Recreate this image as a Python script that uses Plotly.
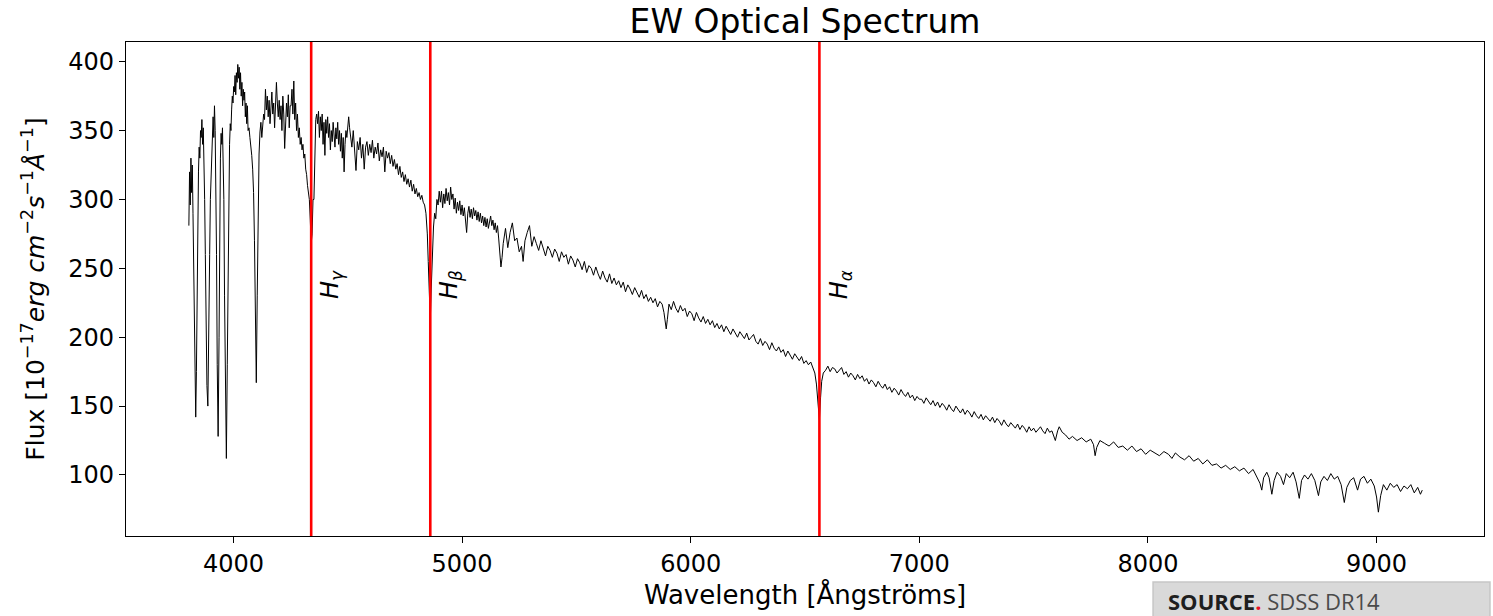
import plotly.graph_objects as go

# ---------------- data ----------------
wl_a = [3805,3808,3811,3814,3817,3820,3823,3826,3829,3832,
        3835,3838,3841,3844,3847,3850,3853,3856,3859,3862,
        3865,3868,3871,3874,3877,3880,3884,3888,3892,3896,
        3899,3902,3905,3908,3911,3914,3917,3920,3923,3926,
        3929,3933,3937,3940,3943,3946,3949,3952,3955,3958,
        3961,3965,3969,3973,3977,3980,3983,3986,3989,3992,
        3995,3998]
flux_a = [281,320,296,330,305,325,290,250,200,155,
          142,175,240,296,320,338,330,350,345,358,
          340,352,330,300,260,210,165,150,190,260,
          300,315,335,350,360,345,368,350,320,260,
          180,128,200,280,330,348,340,352,335,300,
          230,150,112,180,260,300,340,355,350,365,
          375,370]

wl_b = [4001,4004,4007,4010,4013,4016,4019,4022,4025,4028,
        4031,4034,4037,4040,4043,4046,4049,4052,4055,4058,
        4061,4064,4068,4072,4076,4080,4084,4088,4092,4096,
        4100,4104,4108,4112,4116,4120,4124,4128,4132,4136]
flux_b = [382,378,390,376,392,385,398,388,396,380,
          392,375,385,368,380,372,378,360,370,355,
          368,350,352,345,340,332,322,305,270,210,
          167,230,300,333,349,356,345,352,362,358]

wl_c = [4140,4144,4148,4152,4156,4160,4164,4168,4172,4176,
        4180,4184,4188,4192,4196,4200,4204,4208,4212,4216,
        4220,4224,4228,4232,4236,4240,4244,4248,4252,4256,
        4260,4264,4268,4272,4276,4280,4284,4288,4292,4296,
        4300,4304,4308,4312,4316,4320,4324,4328,4332,4336]
flux_c = [380,365,375,360,372,355,368,378,362,370,
          352,366,385,370,360,372,358,368,350,375,
          362,337,365,370,360,376,352,368,368,380,
          362,386,358,370,350,362,345,352,340,345,
          336,340,330,333,322,318,310,304,300,285]

wl_d = [4340,4344,4348,4352,4356,4360,4364,4368,4372,4376,
        4380,4384,4388,4392,4396,4400,4404,4408,4412,4416,
        4420,4424,4428,4432,4436,4440,4444,4448,4452,4456,
        4460,4464,4468,4472,4476,4480,4484,4488,4492,4496,
        4500,4504,4508]
flux_d = [268,275,300,300,335,358,362,355,364,345,
          360,350,362,340,356,332,358,348,360,345,
          355,336,350,342,356,348,338,352,344,356,
          340,350,335,348,330,345,320,340,350,345,
          355,360,352]

wl_e = [4512,4518,4524,4530,4536,4542,4548,4554,4560,4566,
        4572,4578,4584,4590,4596,4602,4608,4614,4620,4626,
        4632,4638,4644,4650,4656,4662,4668,4674,4680,4686,
        4692,4698,4704,4710,4716,4722,4728,4734,4740,4746,
        4752,4758,4764,4770,4776,4782,4788,4794,4800,4806,
        4812,4818,4824,4830,4836,4842]
flux_e = [345,338,350,335,321,342,336,345,330,340,
          322,338,342,332,340,334,343,330,338,333,
          341,328,336,331,338,320,335,330,334,326,
          332,324,329,322,326,318,324,316,320,313,
          318,311,315,309,314,306,311,304,308,302,
          305,300,303,298,296,290]

wl_f = [4848,4852,4856,4861,4865,4870,4875,4880,4885,4890,
        4895,4900]
flux_f = [275,255,232,212,235,265,280,290,286,300,
          296,306]

wl_g = [4905,4910,4915,4920,4925,4930,4935,4940,4945,4950,
        4955,4960,4965,4970,4975,4980,4985,4990,4995,5000,
        5005,5010,5015,5020,5025,5030,5035,5040,5045,5050,
        5055,5060,5065,5070,5075,5080,5085,5090,5095,5100,
        5105,5110,5115,5120,5125,5130,5135,5140,5145,5150,
        5155,5160,5165,5170,5175]
flux_g = [298,306,294,304,297,308,299,305,296,309,
          300,304,293,301,290,298,292,299,289,296,
          288,294,283,276,290,295,287,293,286,294,
          288,292,285,291,284,290,283,288,281,287,
          280,286,279,284,288,281,285,278,283,276,
          281,272,260,251,258]

wl_h = [5180,5190,5200,5210,5220,5230,5240,5250,5260,5267,
        5275,5285,5295,5305,5315,5325,5335,5345,5355,5365,
        5375,5385,5395,5405,5415,5425,5435,5445,5455,5465,
        5475,5485,5495,5505,5515,5525,5535,5545,5555,5565,
        5575,5585,5595,5605,5615,5625,5635,5645,5655,5665,
        5675,5685,5695,5705,5715,5725,5735,5745,5755,5765,
        5775,5785,5795,5805,5815,5825,5835,5845,5855,5865,
        5875,5883]
flux_h = [268,279,265,276,283,270,272,262,266,255,
          270,276,281,266,273,268,263,270,265,259,
          266,263,258,264,261,255,262,258,260,253,
          259,256,251,257,254,249,255,247,252,250,
          245,251,246,242,248,243,240,246,239,243,
          238,241,236,240,233,238,235,231,236,232,
          229,234,228,231,226,229,225,228,222,226,
          224,218]

wl_i = [5888,5893,5898,5905,
        5915,5925,5935,5945,5955,5965,5975,5985,5995,6005,
        6015,6025,6035,6045,6055,6065,6075,6085,6095,6105,
        6115,6125,6135,6145,6155,6165,6175,6185,6195,6205,
        6215,6225,6235,6245,6255,6265,6275,6285,6295,6305,
        6315,6325,6335,6345,6355,6365,6375,6385,6395,6405,
        6415,6425,6435,6445,6455,6465,6475,6485,6495,6505,
        6515,6525,6535]
flux_i = [212,206,213,224,
          220,226,221,218,223,219,221,215,219,217,
          212,218,214,211,215,210,213,209,212,207,
          210,206,209,204,208,205,202,206,203,200,
          204,201,199,203,198,200,202,197,195,199,
          194,197,195,191,196,192,190,193,189,191,
          186,190,187,184,188,185,183,186,181,183,
          180,182,178]

wl_j = [6543,6550,6556,6563,6568,6573,6580,
        6590,6600,6610,6620,6630,6640,6650,6660,6670,6680,
        6690,6700,6710,6720,6730,6740,6750,6760,6770,6780,
        6790,6800,6810,6820,6830,6840,6850,6860,6870,6880,
        6890,6900,6910,6920,6930,6940,6950,6960,6970,6980,
        6990,7000]
flux_j = [174,166,152,140,156,168,174,
          176,179,175,178,177,174,176,178,173,175,
          171,174,172,169,173,170,172,168,170,166,
          169,167,164,168,165,163,166,162,164,160,
          163,161,158,162,159,157,160,156,158,154,
          157,155]

wl_k = [7010,7020,7030,7040,7050,7060,7070,7080,7090,7100,
        7110,7120,7130,7140,7150,7160,7170,7180,7190,7200,
        7210,7220,7230,7240,7250,7260,7270,7280,7290,7300,
        7310,7320,7330,7340,7350,7360,7370,7380,7390,7400,
        7410,7420,7430,7440,7450,7460,7470,7480,7490,7500,
        7510,7520,7530,7540,7550,7560,7570,7580]
flux_k = [155,152,156,153,151,154,150,153,149,152,
          150,147,151,148,146,150,147,145,148,144,
          147,145,142,146,143,141,144,140,143,141,
          139,142,138,141,139,136,140,137,135,138,
          136,134,137,133,136,134,131,135,132,134,
          131,133,135,132,130,134,131,132]

wl_l = [7595,7605,7612,7625,7640,7655,7670,7690,7710,7730,
        7750,7762,7769,7776,7790,7810,7830,7850,7870,7890,
        7910,7930,7950,7970,7990,8010,8030,8050,8070,8090,
        8105,8120,8140,8160,8180,8200,8220,8240,8260,8280,
        8300,8320,8340,8360,8380,8400,8420,8440,8460,8475,
        8490,8498,8506,8520,8530,8542,8552,8565,8580,8593,
        8605,8620,8635,8648,8662,8672,8685,8700,8715,8730,
        8746,8756,8770,8785,8800,8815,8830,8845,8859,8870,
        8885,8900,8917,8930,8945,8960,8975,8990,9000,9008,
        9018,9030,9045,9060,9075,9090,9105,9120,9135,9150,
        9165,9180,9192,9200]
flux_l = [125,132,135,131,129,126,128,125,127,124,
          126,122,114,120,125,123,121,124,120,121,
          118,121,117,119,115,118,116,114,117,115,
          112,116,113,111,114,110,112,108,111,107,
          108,105,107,104,106,103,105,101,104,99,
          94,89,98,102,98,86,96,102,99,93,
          101,98,102,95,83,96,100,97,101,96,
          85,95,99,96,101,97,99,93,80,91,
          96,98,89,97,99,94,97,92,84,73,
          85,93,89,94,91,93,88,92,90,93,
          87,91,86,89]

line_names = ["H<sub>γ</sub>", "H<sub>β</sub>", "H<sub>α</sub>"]
line_wavelengths = [4340, 4861, 6563]
x_ticks = [4000, 5000, 6000, 7000, 8000, 9000]
y_ticks = [100, 150, 200, 250, 300, 350, 400]

# ---------------- assemble ----------------
wl_parts = [wl_a, wl_b, wl_c, wl_d, wl_e, wl_f, wl_g, wl_h, wl_i, wl_j, wl_k, wl_l]
fl_parts = [flux_a, flux_b, flux_c, flux_d, flux_e, flux_f, flux_g, flux_h, flux_i, flux_j, flux_k, flux_l]
wavelength, flux = [], []
for w, f in zip(wl_parts, fl_parts):
    assert len(w) == len(f), (w[0], len(w), len(f))
    wavelength += w
    flux += f

FONT = "DejaVu Sans"

fig = go.Figure()
fig.add_trace(go.Scatter(x=wavelength, y=flux, mode="lines",
                         line=dict(color="black", width=1.0),
                         showlegend=False, hoverinfo="x+y"))

for name, lam in zip(line_names, line_wavelengths):
    fig.add_shape(type="line", xref="x", yref="paper", x0=lam, x1=lam, y0=0, y1=1,
                  line=dict(color="#ff0000", width=2.6))
    fig.add_annotation(x=lam, y=238, xref="x", yref="y", xshift=21,
                       text="<i>" + name + "</i>", textangle=-90, showarrow=False,
                       font=dict(family=FONT, size=24, color="black"))

# source box
fig.add_shape(type="rect", xref="paper", yref="paper",
              x0=0.7563, x1=1.0044, y0=-0.0931, y1=-0.19,
              fillcolor="#d9d9d9", line=dict(color="#c6c6c6", width=1.5), layer="above")
fig.add_annotation(xref="paper", yref="paper", x=0.7658, y=-0.1316,
                   xanchor="left", yanchor="middle", showarrow=False,
                   text="<b>SOURCE<span style='color:#e8101e'>.</span></b> "
                        "<span style='color:#4a4a4a'>SDSS DR14</span>",
                   font=dict(family="Open Sans", size=22, color="#1e1e1e"))

fig.update_layout(
    width=1493, height=616,
    margin=dict(l=126, r=9, t=42, b=80),
    paper_bgcolor="white", plot_bgcolor="white",
    font=dict(family=FONT, color="black"),
    title=dict(text="EW Optical Spectrum", x=0.5, xref="paper", xanchor="center",
               y=1 - 21 / 616, yref="container", yanchor="middle",
               font=dict(family=FONT, size=33, color="black")),
    xaxis=dict(range=[3530, 9470], tickvals=x_ticks, ticks="outside", ticklen=6,
               tickwidth=1.3, tickcolor="black", showline=True, linecolor="black",
               linewidth=1.3, mirror=True, showgrid=False, zeroline=False,
               tickfont=dict(family=FONT, size=24, color="black"),
               title=dict(text="Wavelength [Ångströms]", standoff=8,
                          font=dict(family=FONT, size=26, color="black"))),
    yaxis=dict(range=[55.7, 414.3], tickvals=y_ticks, ticks="outside", ticklen=6,
               tickwidth=1.3, tickcolor="black", showline=True, linecolor="black",
               linewidth=1.3, mirror=True, showgrid=False, zeroline=False,
               tickfont=dict(family=FONT, size=24, color="black"),
               title=dict(text="Flux [10<sup>−17</sup><i>erg cm</i><sup>−2</sup><i>s</i>"
                               "<sup>−1</sup><i>Å</i><sup>−1</sup>]", standoff=16,
                          font=dict(family=FONT, size=25, color="black"))),
)

fig.write_html("out.html")
